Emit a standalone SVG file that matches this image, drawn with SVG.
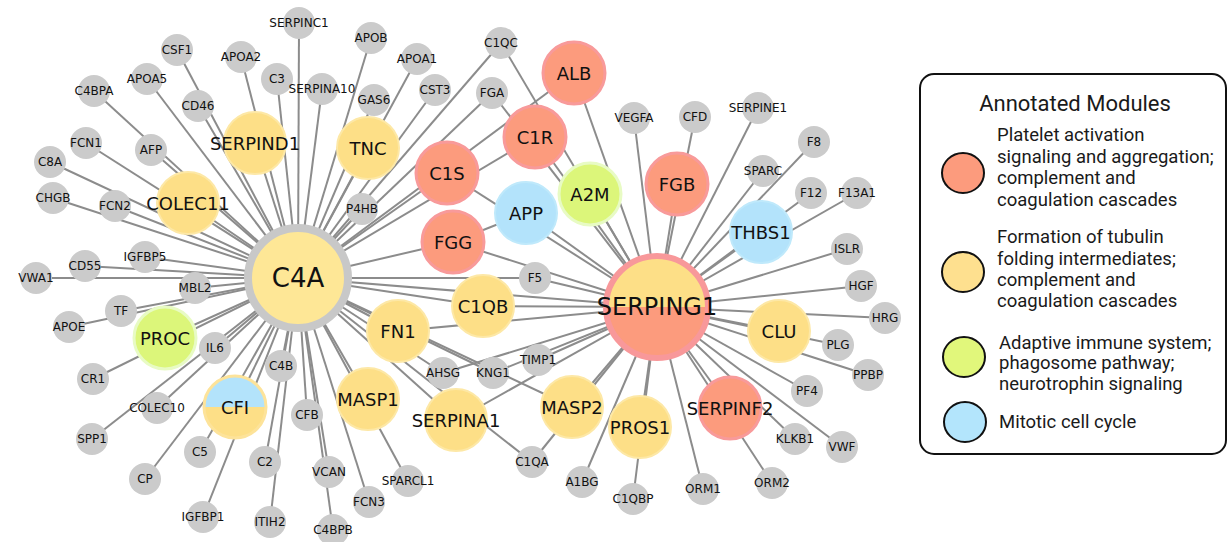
<svg xmlns="http://www.w3.org/2000/svg" width="1230" height="542" viewBox="0 0 1230 542">
<style>
.e line{stroke:#8c8c8c;stroke-width:2}
text{font-family:"DejaVu Sans",Verdana,sans-serif;fill:#111;text-anchor:middle;dominant-baseline:central}
.s circle{fill:#cbcbcb}
.s text{font-size:12px}
.h text{font-size:18px}
.y circle{fill:#fddf87;stroke:#fde8a6;stroke-width:2}
.r circle{fill:#fc9b7d;stroke:#f89a9a;stroke-width:3}
.gr circle{fill:#dcf67a;stroke:#e8fbc4;stroke-width:3}
.b circle{fill:#b3e3fb;stroke:#bfe9fb;stroke-width:2}
.lg text{font-family:Roboto,"Liberation Sans",sans-serif;text-anchor:start;font-size:18.5px;fill:#1a1a1a}
.lg circle,.lg ellipse{stroke:#111;stroke-width:2}
</style>
<rect width="1230" height="542" fill="#fff"/>
<g id="connectors" class="e">
<line x1="298" y1="278" x2="299" y2="23"/>
<line x1="298" y1="278" x2="322" y2="89"/>
<line x1="298" y1="278" x2="277" y2="79"/>
<line x1="298" y1="278" x2="241" y2="57"/>
<line x1="298" y1="278" x2="177" y2="50"/>
<line x1="298" y1="278" x2="198" y2="106"/>
<line x1="298" y1="278" x2="147" y2="79"/>
<line x1="298" y1="278" x2="94" y2="91"/>
<line x1="298" y1="278" x2="151" y2="150"/>
<line x1="298" y1="278" x2="86" y2="143"/>
<line x1="298" y1="278" x2="50" y2="162"/>
<line x1="298" y1="278" x2="53" y2="198"/>
<line x1="298" y1="278" x2="115" y2="206"/>
<line x1="298" y1="278" x2="188" y2="203"/>
<line x1="298" y1="278" x2="255" y2="143"/>
<line x1="298" y1="278" x2="145" y2="257"/>
<line x1="298" y1="278" x2="85" y2="266"/>
<line x1="298" y1="278" x2="36" y2="278"/>
<line x1="298" y1="278" x2="195" y2="288"/>
<line x1="298" y1="278" x2="121" y2="311"/>
<line x1="298" y1="278" x2="69" y2="327"/>
<line x1="298" y1="278" x2="165" y2="338"/>
<line x1="298" y1="278" x2="93" y2="379"/>
<line x1="298" y1="278" x2="215" y2="348"/>
<line x1="298" y1="278" x2="92" y2="439"/>
<line x1="298" y1="278" x2="157" y2="408"/>
<line x1="298" y1="278" x2="145" y2="479"/>
<line x1="298" y1="278" x2="200" y2="452"/>
<line x1="298" y1="278" x2="235" y2="407"/>
<line x1="298" y1="278" x2="203" y2="517"/>
<line x1="298" y1="278" x2="281" y2="366"/>
<line x1="298" y1="278" x2="265" y2="462"/>
<line x1="298" y1="278" x2="270" y2="522"/>
<line x1="298" y1="278" x2="307" y2="415"/>
<line x1="298" y1="278" x2="329" y2="472"/>
<line x1="298" y1="278" x2="333" y2="530"/>
<line x1="298" y1="278" x2="369" y2="502"/>
<line x1="298" y1="278" x2="368" y2="399"/>
<line x1="298" y1="278" x2="408" y2="481"/>
<line x1="298" y1="278" x2="456" y2="420"/>
<line x1="298" y1="278" x2="443" y2="373"/>
<line x1="298" y1="278" x2="493" y2="373"/>
<line x1="298" y1="278" x2="572" y2="407"/>
<line x1="298" y1="278" x2="532" y2="462"/>
<line x1="298" y1="278" x2="398" y2="331"/>
<line x1="298" y1="278" x2="483" y2="306"/>
<line x1="298" y1="278" x2="535" y2="278"/>
<line x1="298" y1="278" x2="453" y2="242"/>
<line x1="298" y1="278" x2="447" y2="173"/>
<line x1="298" y1="278" x2="535" y2="137"/>
<line x1="298" y1="278" x2="492" y2="93"/>
<line x1="298" y1="278" x2="501" y2="43"/>
<line x1="298" y1="278" x2="435" y2="90"/>
<line x1="298" y1="278" x2="417" y2="59"/>
<line x1="298" y1="278" x2="374" y2="100"/>
<line x1="298" y1="278" x2="371" y2="38"/>
<line x1="298" y1="278" x2="368" y2="148"/>
<line x1="298" y1="278" x2="362" y2="209"/>
<line x1="298" y1="278" x2="574" y2="73"/>
<line x1="298" y1="278" x2="657" y2="307"/>
<line x1="657" y1="307" x2="501" y2="43"/>
<line x1="657" y1="307" x2="492" y2="93"/>
<line x1="657" y1="307" x2="574" y2="73"/>
<line x1="657" y1="307" x2="535" y2="137"/>
<line x1="657" y1="307" x2="447" y2="173"/>
<line x1="657" y1="307" x2="526" y2="213"/>
<line x1="657" y1="307" x2="453" y2="242"/>
<line x1="657" y1="307" x2="535" y2="278"/>
<line x1="657" y1="307" x2="590" y2="194"/>
<line x1="657" y1="307" x2="634" y2="118"/>
<line x1="657" y1="307" x2="695" y2="117"/>
<line x1="657" y1="307" x2="677" y2="184"/>
<line x1="657" y1="307" x2="758" y2="108"/>
<line x1="657" y1="307" x2="814" y2="142"/>
<line x1="657" y1="307" x2="763" y2="171"/>
<line x1="657" y1="307" x2="811" y2="193"/>
<line x1="657" y1="307" x2="857" y2="193"/>
<line x1="657" y1="307" x2="761" y2="232"/>
<line x1="657" y1="307" x2="847" y2="249"/>
<line x1="657" y1="307" x2="861" y2="286"/>
<line x1="657" y1="307" x2="885" y2="318"/>
<line x1="657" y1="307" x2="779" y2="331"/>
<line x1="657" y1="307" x2="838" y2="345"/>
<line x1="657" y1="307" x2="868" y2="375"/>
<line x1="657" y1="307" x2="807" y2="391"/>
<line x1="657" y1="307" x2="842" y2="447"/>
<line x1="657" y1="307" x2="795" y2="439"/>
<line x1="657" y1="307" x2="730" y2="408"/>
<line x1="657" y1="307" x2="772" y2="483"/>
<line x1="657" y1="307" x2="703" y2="489"/>
<line x1="657" y1="307" x2="640" y2="427"/>
<line x1="657" y1="307" x2="633" y2="499"/>
<line x1="657" y1="307" x2="582" y2="482"/>
<line x1="657" y1="307" x2="572" y2="407"/>
<line x1="657" y1="307" x2="532" y2="462"/>
<line x1="657" y1="307" x2="456" y2="420"/>
<line x1="657" y1="307" x2="538" y2="360"/>
<line x1="657" y1="307" x2="493" y2="373"/>
<line x1="657" y1="307" x2="443" y2="373"/>
<line x1="657" y1="307" x2="398" y2="331"/>
<line x1="657" y1="307" x2="483" y2="306"/>
<line x1="453" y1="242" x2="526" y2="213"/>
</g>
<g class="s">
<g id="n-SERPINC1"><circle cx="299" cy="23" r="16"/><text x="299" y="23">SERPINC1</text></g>
<g id="n-CSF1"><circle cx="177" cy="50" r="16"/><text x="177" y="50">CSF1</text></g>
<g id="n-APOA2"><circle cx="241" cy="57" r="16"/><text x="241" y="57">APOA2</text></g>
<g id="n-APOB"><circle cx="371" cy="38" r="16"/><text x="371" y="38">APOB</text></g>
<g id="n-APOA1"><circle cx="417" cy="59" r="16"/><text x="417" y="59">APOA1</text></g>
<g id="n-C1QC"><circle cx="501" cy="43" r="16"/><text x="501" y="43">C1QC</text></g>
<g id="n-C3"><circle cx="277" cy="79" r="16"/><text x="277" y="79">C3</text></g>
<g id="n-APOA5"><circle cx="147" cy="79" r="16"/><text x="147" y="79">APOA5</text></g>
<g id="n-C4BPA"><circle cx="94" cy="91" r="16"/><text x="94" y="91">C4BPA</text></g>
<g id="n-SERPINA10"><circle cx="322" cy="89" r="16"/><text x="322" y="89">SERPINA10</text></g>
<g id="n-GAS6"><circle cx="374" cy="100" r="16"/><text x="374" y="100">GAS6</text></g>
<g id="n-CST3"><circle cx="435" cy="90" r="16"/><text x="435" y="90">CST3</text></g>
<g id="n-FGA"><circle cx="492" cy="93" r="16"/><text x="492" y="93">FGA</text></g>
<g id="n-CD46"><circle cx="198" cy="106" r="16"/><text x="198" y="106">CD46</text></g>
<g id="n-VEGFA"><circle cx="634" cy="118" r="16"/><text x="634" y="118">VEGFA</text></g>
<g id="n-CFD"><circle cx="695" cy="117" r="16"/><text x="695" y="117">CFD</text></g>
<g id="n-SERPINE1"><circle cx="758" cy="108" r="16"/><text x="758" y="108">SERPINE1</text></g>
<g id="n-F8"><circle cx="814" cy="142" r="16"/><text x="814" y="142">F8</text></g>
<g id="n-FCN1"><circle cx="86" cy="143" r="16"/><text x="86" y="143">FCN1</text></g>
<g id="n-AFP"><circle cx="151" cy="150" r="16"/><text x="151" y="150">AFP</text></g>
<g id="n-C8A"><circle cx="50" cy="162" r="16"/><text x="50" y="162">C8A</text></g>
<g id="n-SPARC"><circle cx="763" cy="171" r="16"/><text x="763" y="171">SPARC</text></g>
<g id="n-F12"><circle cx="811" cy="193" r="16"/><text x="811" y="193">F12</text></g>
<g id="n-F13A1"><circle cx="857" cy="193" r="16"/><text x="857" y="193">F13A1</text></g>
<g id="n-CHGB"><circle cx="53" cy="198" r="16"/><text x="53" y="198">CHGB</text></g>
<g id="n-FCN2"><circle cx="115" cy="206" r="16"/><text x="115" y="206">FCN2</text></g>
<g id="n-P4HB"><circle cx="362" cy="209" r="16"/><text x="362" y="209">P4HB</text></g>
<g id="n-ISLR"><circle cx="847" cy="249" r="16"/><text x="847" y="249">ISLR</text></g>
<g id="n-IGFBP5"><circle cx="145" cy="257" r="16"/><text x="145" y="257">IGFBP5</text></g>
<g id="n-CD55"><circle cx="85" cy="266" r="16"/><text x="85" y="266">CD55</text></g>
<g id="n-VWA1"><circle cx="36" cy="278" r="16"/><text x="36" y="278">VWA1</text></g>
<g id="n-F5"><circle cx="535" cy="278" r="16"/><text x="535" y="278">F5</text></g>
<g id="n-HGF"><circle cx="861" cy="286" r="16"/><text x="861" y="286">HGF</text></g>
<g id="n-MBL2"><circle cx="195" cy="288" r="16"/><text x="195" y="288">MBL2</text></g>
<g id="n-TF"><circle cx="121" cy="311" r="16"/><text x="121" y="311">TF</text></g>
<g id="n-HRG"><circle cx="885" cy="318" r="16"/><text x="885" y="318">HRG</text></g>
<g id="n-APOE"><circle cx="69" cy="327" r="16"/><text x="69" y="327">APOE</text></g>
<g id="n-PLG"><circle cx="838" cy="345" r="16"/><text x="838" y="345">PLG</text></g>
<g id="n-IL6"><circle cx="215" cy="348" r="16"/><text x="215" y="348">IL6</text></g>
<g id="n-TIMP1"><circle cx="538" cy="360" r="16"/><text x="538" y="360">TIMP1</text></g>
<g id="n-C4B"><circle cx="281" cy="366" r="16"/><text x="281" y="366">C4B</text></g>
<g id="n-AHSG"><circle cx="443" cy="373" r="16"/><text x="443" y="373">AHSG</text></g>
<g id="n-KNG1"><circle cx="493" cy="373" r="16"/><text x="493" y="373">KNG1</text></g>
<g id="n-PPBP"><circle cx="868" cy="375" r="16"/><text x="868" y="375">PPBP</text></g>
<g id="n-CR1"><circle cx="93" cy="379" r="16"/><text x="93" y="379">CR1</text></g>
<g id="n-PF4"><circle cx="807" cy="391" r="16"/><text x="807" y="391">PF4</text></g>
<g id="n-COLEC10"><circle cx="157" cy="408" r="16"/><text x="157" y="408">COLEC10</text></g>
<g id="n-CFB"><circle cx="307" cy="415" r="16"/><text x="307" y="415">CFB</text></g>
<g id="n-SPP1"><circle cx="92" cy="439" r="16"/><text x="92" y="439">SPP1</text></g>
<g id="n-KLKB1"><circle cx="795" cy="439" r="16"/><text x="795" y="439">KLKB1</text></g>
<g id="n-VWF"><circle cx="842" cy="447" r="16"/><text x="842" y="447">VWF</text></g>
<g id="n-C5"><circle cx="200" cy="452" r="16"/><text x="200" y="452">C5</text></g>
<g id="n-C2"><circle cx="265" cy="462" r="16"/><text x="265" y="462">C2</text></g>
<g id="n-C1QA"><circle cx="532" cy="462" r="16"/><text x="532" y="462">C1QA</text></g>
<g id="n-VCAN"><circle cx="329" cy="472" r="16"/><text x="329" y="472">VCAN</text></g>
<g id="n-CP"><circle cx="145" cy="479" r="16"/><text x="145" y="479">CP</text></g>
<g id="n-SPARCL1"><circle cx="408" cy="481" r="16"/><text x="408" y="481">SPARCL1</text></g>
<g id="n-A1BG"><circle cx="582" cy="482" r="16"/><text x="582" y="482">A1BG</text></g>
<g id="n-ORM2"><circle cx="772" cy="483" r="16"/><text x="772" y="483">ORM2</text></g>
<g id="n-ORM1"><circle cx="703" cy="489" r="16"/><text x="703" y="489">ORM1</text></g>
<g id="n-C1QBP"><circle cx="633" cy="499" r="16"/><text x="633" y="499">C1QBP</text></g>
<g id="n-FCN3"><circle cx="369" cy="502" r="16"/><text x="369" y="502">FCN3</text></g>
<g id="n-IGFBP1"><circle cx="203" cy="517" r="16"/><text x="203" y="517">IGFBP1</text></g>
<g id="n-ITIH2"><circle cx="270" cy="522" r="16"/><text x="270" y="522">ITIH2</text></g>
<g id="n-C4BPB"><circle cx="333" cy="530" r="16"/><text x="333" y="530">C4BPB</text></g>
</g>
<g class="h">
<g id="n-ALB" class="r"><circle cx="574" cy="73" r="31"/><text x="574" y="73">ALB</text></g>
<g id="n-C1R" class="r"><circle cx="535" cy="137" r="31"/><text x="535" y="137">C1R</text></g>
<g id="n-SERPIND1" class="y"><circle cx="255" cy="143" r="31"/><text x="255" y="143">SERPIND1</text></g>
<g id="n-TNC" class="y"><circle cx="368" cy="148" r="31"/><text x="368" y="148">TNC</text></g>
<g id="n-C1S" class="r"><circle cx="447" cy="173" r="31"/><text x="447" y="173">C1S</text></g>
<g id="n-FGB" class="r"><circle cx="677" cy="184" r="31"/><text x="677" y="184">FGB</text></g>
<g id="n-A2M" class="gr"><circle cx="590" cy="194" r="31"/><text x="590" y="194">A2M</text></g>
<g id="n-COLEC11" class="y"><circle cx="188" cy="203" r="31"/><text x="188" y="203">COLEC11</text></g>
<g id="n-APP" class="b"><circle cx="526" cy="213" r="31"/><text x="526" y="213">APP</text></g>
<g id="n-THBS1" class="b"><circle cx="761" cy="232" r="31"/><text x="761" y="232">THBS1</text></g>
<g id="n-FGG" class="r"><circle cx="453" cy="242" r="31"/><text x="453" y="242">FGG</text></g>
<g id="n-C1QB" class="y"><circle cx="483" cy="306" r="31"/><text x="483" y="306">C1QB</text></g>
<g id="n-FN1" class="y"><circle cx="398" cy="331" r="31"/><text x="398" y="331">FN1</text></g>
<g id="n-CLU" class="y"><circle cx="779" cy="331" r="31"/><text x="779" y="331">CLU</text></g>
<g id="n-PROC" class="gr"><circle cx="165" cy="338" r="31"/><text x="165" y="338">PROC</text></g>
<g id="n-MASP1" class="y"><circle cx="368" cy="399" r="31"/><text x="368" y="399">MASP1</text></g>
<g id="n-MASP2" class="y"><circle cx="572" cy="407" r="31"/><text x="572" y="407">MASP2</text></g>
<g id="n-CFI"><circle cx="235" cy="407" r="31" fill="#fddf87"/><path d="M204 407 A31 31 0 0 1 266 407 Z" fill="#b3e3fb"/><circle cx="235" cy="407" r="31" fill="none" stroke="#fde39a" stroke-width="3"/><text x="235" y="407">CFI</text></g>
<g id="n-SERPINF2" class="r"><circle cx="730" cy="408" r="31"/><text x="730" y="408">SERPINF2</text></g>
<g id="n-SERPINA1" class="y"><circle cx="456" cy="420" r="31"/><text x="456" y="420">SERPINA1</text></g>
<g id="n-PROS1" class="y"><circle cx="640" cy="427" r="31"/><text x="640" y="427">PROS1</text></g>
</g>
<g id="n-C4A"><circle cx="298" cy="278" r="50" fill="#fee796" stroke="#c8c8c8" stroke-width="8"/><text x="298" y="278" font-size="26">C4A</text></g>
<g id="n-SERPING1"><circle cx="657" cy="307" r="51" fill="#fc9b7d"/><path d="M606 307 A51 51 0 0 1 708 307 Z" fill="#fddf87"/><circle cx="657" cy="307" r="51" fill="none" stroke="#f8989a" stroke-width="6"/><text x="657" y="307" font-size="24">SERPING1</text></g>
<g id="legend" class="lg">
<rect x="920" y="74" width="306" height="380" rx="14" fill="#fff" stroke="#111" stroke-width="2"/>
<text x="1075" y="103" style="text-anchor:middle;font-size:22px">Annotated Modules</text>
<ellipse cx="963" cy="173" rx="21" ry="20" fill="#fc9b7d"/>
<text x="997" y="135">Platelet activation</text>
<text x="997" y="157">signaling and aggregation;</text>
<text x="997" y="178">complement and</text>
<text x="997" y="200">coagulation cascades</text>
<ellipse cx="963" cy="272" rx="21" ry="20" fill="#fee08f"/>
<text x="997" y="237">Formation of tubulin</text>
<text x="997" y="259">folding intermediates;</text>
<text x="997" y="280">complement and</text>
<text x="997" y="301">coagulation cascades</text>
<ellipse cx="964" cy="357" rx="21" ry="20" fill="#e1f77b"/>
<text x="999" y="343">Adaptive immune system;</text>
<text x="999" y="363">phagosome pathway;</text>
<text x="999" y="384">neurotrophin signaling</text>
<ellipse cx="965" cy="422" rx="21" ry="20" fill="#b3e5fc"/>
<text x="999" y="422">Mitotic cell cycle</text>
</g>
</svg>
